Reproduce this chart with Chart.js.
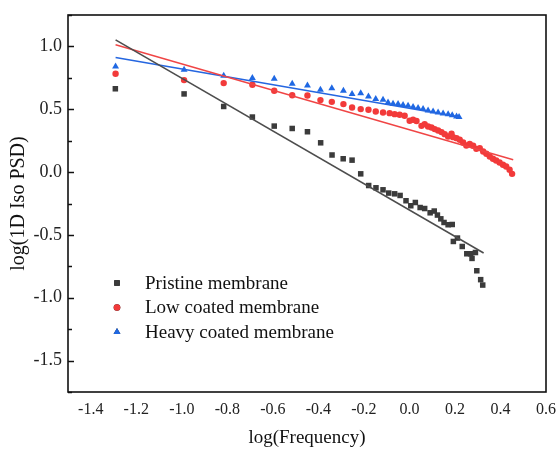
<!DOCTYPE html>
<html><head><meta charset="utf-8">
<script src="https://cdn.jsdelivr.net/npm/chart.js@4.4.0/dist/chart.umd.min.js"></script>
<style>html,body{margin:0;padding:0;background:#fff;}#wrap{width:557px;height:453px;}</style>
</head><body><div id="wrap"><canvas id="c" width="557" height="453"></canvas></div>
<script>
const seriesNames = ["Pristine membrane", "Low coated membrane", "Heavy coated membrane"];

const pristineX = [-1.292,-0.990,-0.816,-0.690,-0.594,-0.515,-0.448,-0.390,-0.340,-0.291,-0.252,-0.214,-0.179,-0.147,-0.116,-0.091,-0.065,-0.041,-0.015,0.006,0.026,0.047,0.067,0.091,0.109,0.123,0.138,0.152,0.170,0.188,0.193,0.211,0.232,0.252,0.269,0.275,0.290,0.296,0.313,0.322];
const pristineY = [0.663,0.622,0.522,0.438,0.366,0.347,0.321,0.233,0.136,0.106,0.095,-0.014,-0.107,-0.125,-0.141,-0.167,-0.173,-0.186,-0.228,-0.268,-0.242,-0.282,-0.290,-0.324,-0.310,-0.342,-0.372,-0.401,-0.419,-0.417,-0.552,-0.525,-0.592,-0.650,-0.650,-0.687,-0.640,-0.785,-0.856,-0.899];

const lowX = [-1.291,-0.990,-0.816,-0.690,-0.594,-0.515,-0.448,-0.391,-0.341,-0.290,-0.252,-0.214,-0.180,-0.148,-0.116,-0.087,-0.065,-0.043,-0.021,0.001,0.016,0.031,0.053,0.067,0.082,0.097,0.111,0.126,0.141,0.155,0.170,0.185,0.192,0.207,0.221,0.236,0.250,0.265,0.280,0.294,0.309,0.324,0.338,0.353,0.367,0.381,0.396,0.411,0.425,0.440,0.451];
const lowY = [0.782,0.732,0.708,0.695,0.647,0.612,0.609,0.573,0.559,0.541,0.514,0.501,0.496,0.482,0.474,0.469,0.461,0.456,0.448,0.408,0.416,0.406,0.368,0.382,0.363,0.355,0.342,0.331,0.318,0.302,0.283,0.305,0.278,0.270,0.257,0.235,0.212,0.223,0.209,0.185,0.191,0.164,0.146,0.124,0.106,0.092,0.076,0.058,0.045,0.018,-0.014];

const heavyX = [-1.291,-0.990,-0.816,-0.690,-0.594,-0.515,-0.448,-0.391,-0.341,-0.290,-0.252,-0.214,-0.180,-0.148,-0.116,-0.094,-0.072,-0.050,-0.028,-0.006,0.016,0.038,0.060,0.082,0.104,0.126,0.148,0.170,0.188,0.207,0.218];
const heavyY = [0.840,0.814,0.766,0.748,0.742,0.702,0.689,0.655,0.668,0.647,0.621,0.628,0.601,0.581,0.575,0.554,0.543,0.541,0.533,0.527,0.517,0.509,0.501,0.490,0.482,0.474,0.466,0.461,0.453,0.442,0.438];

// linear fit line endpoints
const fitPristineX = [-1.291, 0.326];
const fitPristineY = [1.052, -0.644];
const fitLowX = [-1.291, 0.456];
const fitLowY = [1.013, 0.098];
const fitHeavyX = [-1.291, 0.221];
const fitHeavyY = [0.912, 0.438];

const xTicks = [-1.4,-1.2,-1.0,-0.8,-0.6,-0.4,-0.2,0.0,0.2,0.4,0.6];
const yTicks = [-1.5,-1.0,-0.5,0.0,0.5,1.0];

const colors = {black:'#3b3b3b', red:'#f23a3a', blue:'#1f68e3'};
const lineColors = {black:'#4d4d4d', red:'#f04545', blue:'#2566e0'};

function pts(xs, ys){ return xs.map((x,i)=>({x:x, y:ys[i]})); }

const SERIF = "'Liberation Serif', 'DejaVu Serif', serif";

const boxPlugin = {
  id: 'boxTicks',
  afterDraw(chart){
    const ctx = chart.ctx, a = chart.chartArea, ys = chart.scales.y;
    ctx.save();
    ctx.strokeStyle = '#111';
    ctx.lineWidth = 1.6;
    ctx.strokeRect(a.left, a.top, a.right - a.left, a.bottom - a.top);
    ctx.lineWidth = 1.5;
    for (let v = ys.min; v <= ys.max + 1e-9; v += 0.25) {
      const py = Math.round(ys.getPixelForValue(v)) + 0.5;
      const major = yTicks.some(t => Math.abs(t - v) < 1e-6);
      const len = major ? 6 : 4;
      ctx.beginPath(); ctx.moveTo(a.left, py); ctx.lineTo(a.left + len, py); ctx.stroke();
    }
    const items = [
      {name: seriesNames[0], style:'rect', color: colors.black, r: 3.9},
      {name: seriesNames[1], style:'circle', color: colors.red, r: 3.3},
      {name: seriesNames[2], style:'triangle', color: colors.blue, r: 4.0}
    ];
    const lx = 117, ly0 = 283, dy = 24.5;
    ctx.font = "19px " + SERIF;
    ctx.textBaseline = 'middle';
    items.forEach((it, i) => {
      const y = ly0 + i * dy;
      Chart.helpers.drawPoint(ctx, {pointStyle: it.style, radius: it.r, rotation: 0, borderWidth: 0}, lx, y);
      ctx.fillStyle = it.color;
      ctx.fill();
      ctx.fillStyle = '#111';
      ctx.fillText(it.name, 145, y + 1);
    });
    ctx.restore();
  }
};

new Chart(document.getElementById('c'), {
  type: 'scatter',
  data: {
    datasets: [
      {label: seriesNames[0], data: pts(pristineX, pristineY), pointStyle:'rect', pointRadius:3.9, backgroundColor: colors.black, borderWidth:0, order:2},
      {label: seriesNames[1], data: pts(lowX, lowY), pointStyle:'circle', pointRadius:3.2, backgroundColor: colors.red, borderWidth:0, order:2},
      {label: seriesNames[2], data: pts(heavyX, heavyY), pointStyle:'triangle', pointRadius:4.0, backgroundColor: colors.blue, borderWidth:0, order:2},
      {label: 'fitP', data: pts(fitPristineX, fitPristineY), showLine:true, pointRadius:0, borderColor: lineColors.black, borderWidth:1.6, order:1},
      {label: 'fitL', data: pts(fitLowX, fitLowY), showLine:true, pointRadius:0, borderColor: lineColors.red, borderWidth:1.4, order:1},
      {label: 'fitH', data: pts(fitHeavyX, fitHeavyY), showLine:true, pointRadius:0, borderColor: lineColors.blue, borderWidth:1.6, order:1}
    ]
  },
  options: {
    responsive: false,
    animation: false,
    events: [],
    layout: {padding: {top: 15, right: 11, left: 0, bottom: 0}},
    plugins: {legend: {display: false}, tooltip: {enabled: false}},
    scales: {
      x: {
        type: 'linear', min: -1.5, max: 0.6,
        grid: {display: false, drawTicks: false},
        border: {display: false},
        afterFit(s){ s.height = 61; s.paddingLeft = 0; s.paddingRight = 0; },
        afterBuildTicks(s){ s.ticks = xTicks.map(v => ({value: v})); },
        ticks: {padding: 8, color: '#222', font: {family: SERIF, size: 16}, maxRotation: 0, autoSkip: false,
          callback: v => v.toFixed(1)},
        title: {display: true, text: 'log(Frequency)', color: '#111', font: {family: SERIF, size: 19}, padding: {top: 0, bottom: 4}}
      },
      y: {
        type: 'linear', min: -1.75, max: 1.25,
        grid: {display: false, drawTicks: false},
        border: {display: false},
        afterFit(s){ s.width = 68; s.paddingTop = 0; s.paddingBottom = 0; },
        afterBuildTicks(s){ s.ticks = yTicks.map(v => ({value: v})); },
        ticks: {padding: 6, color: '#222', font: {family: SERIF, size: 18}, autoSkip: false,
          callback: v => v.toFixed(1)},
        title: {display: true, text: 'log(1D Iso PSD)', color: '#111', font: {family: SERIF, size: 20}, padding: {top: 7, bottom: 0}}
      }
    }
  },
  plugins: [boxPlugin]
});
</script>
</body></html>
